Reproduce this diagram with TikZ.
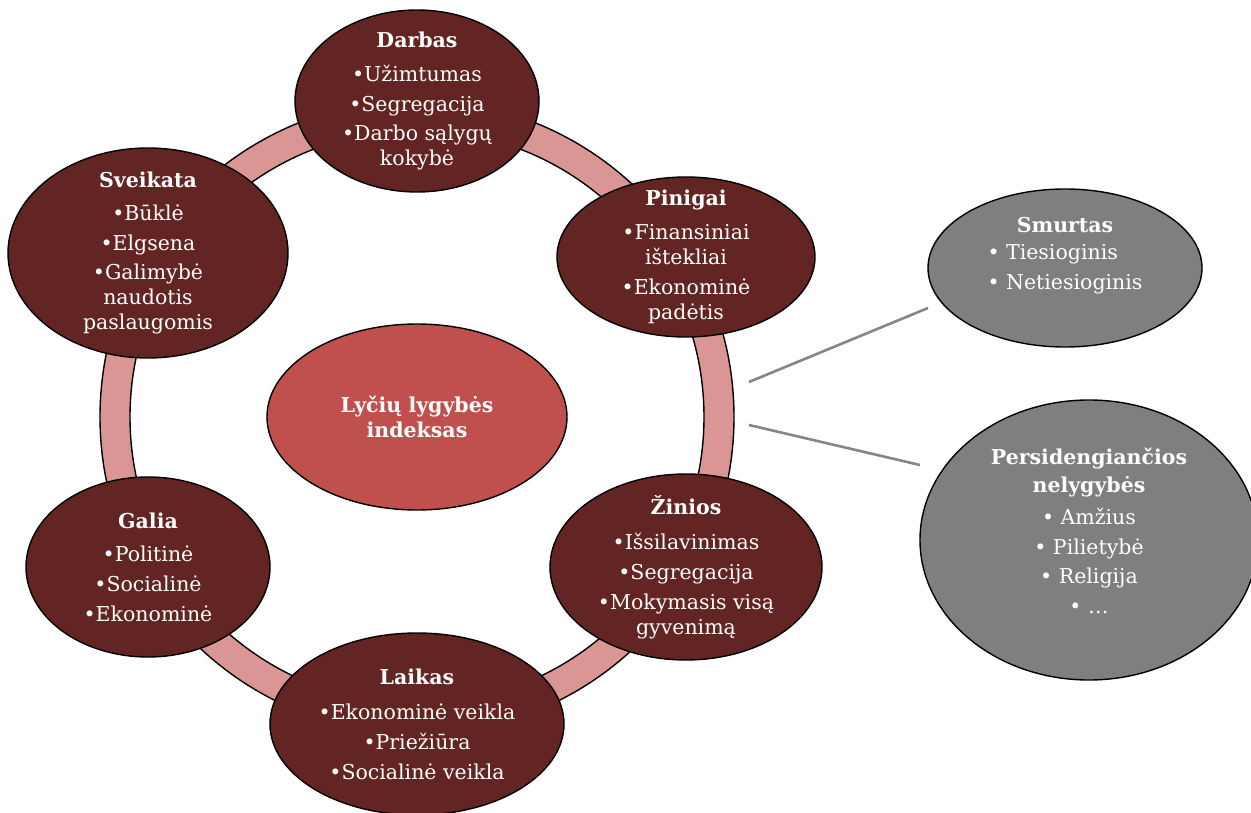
\documentclass[tikz,border=0pt]{standalone}
\usepackage{fontspec}
\setmainfont{DejaVu Serif}
\usetikzlibrary{shapes.geometric}
\definecolor{maroon}{HTML}{632523}
\definecolor{ringc}{HTML}{D99694}
\definecolor{centerc}{HTML}{C0504D}
\definecolor{grayc}{HTML}{7F7F7F}
\definecolor{connc}{HTML}{868686}
\begin{document}
\begin{tikzpicture}[x=1pt,y=-1pt,
  bubble/.style={ellipse, draw=black, line width=1.4pt, fill=maroon, inner sep=0pt},
  hub/.style={ellipse, draw=black, line width=1.4pt, fill=centerc, inner sep=0pt},
  side/.style={ellipse, draw=black, line width=1.4pt, fill=grayc, inner sep=0pt},
  txt/.style={text=white, align=center, inner sep=0pt, font=\fontsize{20.5}{25}\selectfont},
  conn/.style={draw=connc, line width=2.6pt}]
\useasboundingbox (0,0) rectangle (1251,813);
% ring
\draw[fill=ringc, even odd rule, line width=1.4pt] (417,417) circle (317pt) (417,417) circle (287pt);
% connectors
\coordinate (c1a) at (749,382);
\coordinate (c1b) at (928,308);
\coordinate (c2a) at (749,425);
\coordinate (c2b) at (920,465);
\draw[conn] (c1a) -- (c1b);
\draw[conn] (c2a) -- (c2b);
% ellipses
\node[hub, minimum width=300pt, minimum height=186pt] (hub) at (417,417) {};
\node[txt] (hub-t) at (hub.center) {\textbf{Lyčių lygybės}\\\textbf{indeksas}};

\node[bubble, minimum width=244pt, minimum height=182pt] (darbas) at (417,101) {};
\node[txt] (darbas-t) at (darbas.center) {\textbf{Darbas}\\[9pt]•Užimtumas\\[4.5pt]•Segregacija\\[4.5pt]•Darbo sąlygų\\kokybė};

\node[bubble, minimum width=258pt, minimum height=160pt] (pinigai) at (686,257) {};
\node[txt] (pinigai-t) at (pinigai.center) {\textbf{Pinigai}\\[9pt]•Finansiniai\\ištekliai\\[4.5pt]•Ekonominė\\padėtis};

\node[bubble, minimum width=280pt, minimum height=210pt] (sveikata) at (148,253) {};
\node[txt] (sveikata-t) at (sveikata.center) {\textbf{Sveikata}\\[8pt]•Būklė\\[4.5pt]•Elgsena\\[4.5pt]•Galimybė\\naudotis\\paslaugomis};

\node[bubble, minimum width=244pt, minimum height=180pt] (galia) at (148,567) {};
\node[txt] (galia-t) at (galia.center) {\textbf{Galia}\\[8pt]•Politinė\\[5pt]•Socialinė\\[5pt]•Ekonominė};

\node[bubble, minimum width=294pt, minimum height=182pt] (laikas) at (417,724) {};
\node[txt] (laikas-t) at (laikas.center) {\textbf{Laikas}\\[10pt]•Ekonominė veikla\\[5pt]•Priežiūra\\[5pt]•Socialinė veikla};

\node[bubble, minimum width=272pt, minimum height=186pt] (zinios) at (686,567) {};
\node[txt] (zinios-t) at (zinios.center) {\textbf{Žinios}\\[10pt]•Išsilavinimas\\[5pt]•Segregacija\\[5pt]•Mokymasis visą\\gyvenimą};

\node[side, minimum width=274pt, minimum height=158pt] (smurtas) at (1065,268) {};
\node[txt, anchor=north] (smurtas-t) at (1065,217) {\textbf{Smurtas}\\[8pt]%
  \begin{tabular}{@{}l@{}}•\ Tiesioginis\\[5pt]•\ Netiesioginis\end{tabular}};

\node[side, minimum width=338pt, minimum height=280pt] (persid) at (1089,540) {};
\node[txt, anchor=north] (persid-t) at (1089,448) {\textbf{Persidengiančios}\\[3pt]\textbf{nelygybės}\\[7pt]•\ Amžius\\[4.5pt]•\ Pilietybė\\[4.5pt]•\ Religija\\[5pt]•\ …};
\end{tikzpicture}
\end{document}
